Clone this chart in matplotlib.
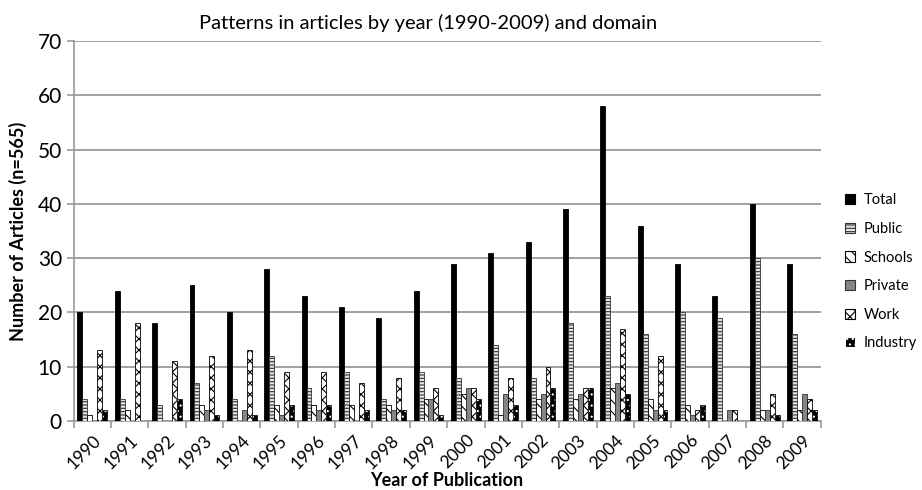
import numpy as np
import matplotlib
matplotlib.use("Agg")
import matplotlib.pyplot as plt
from matplotlib.patches import Patch

plt.rcParams['font.family'] = ['Lato', 'DejaVu Sans']
plt.rcParams['hatch.linewidth'] = 0.8

# articles per year, split by domain
years = [str(y) for y in range(1990, 2010)]
total    = [20, 24, 18, 25, 20, 28, 23, 21, 19, 24, 29, 31, 33, 39, 58, 36, 29, 23, 40, 29]
public   = [4, 4, 3, 7, 4, 12, 6, 9, 4, 9, 8, 14, 8, 18, 23, 16, 20, 19, 30, 16]
schools  = [1, 2, 0, 3, 0, 3, 3, 3, 3, 4, 5, 1, 4, 4, 6, 4, 3, 0, 2, 2]
private  = [0, 0, 0, 2, 2, 1, 2, 0, 2, 4, 6, 5, 5, 5, 7, 2, 1, 2, 2, 5]
work     = [13, 18, 11, 12, 13, 9, 9, 7, 8, 6, 6, 8, 10, 6, 17, 12, 2, 2, 5, 4]
industry = [2, 0, 4, 1, 1, 3, 3, 2, 2, 1, 4, 3, 6, 6, 5, 2, 3, 0, 1, 2]

series = [
    ("Total", total, dict(facecolor="black", edgecolor="black")),
    ("Public", public, dict(facecolor="#e4e4e4", edgecolor="#333333", hatch="-----")),
    ("Schools", schools, dict(facecolor="white", edgecolor="black", hatch="\\\\\\")),
    ("Private", private, dict(facecolor="#858585", edgecolor="#333333")),
    ("Work", work, dict(facecolor="white", edgecolor="black", hatch="xxx")),
    ("Industry", industry, dict(facecolor="black", edgecolor="white", hatch="...")),
]

fig = plt.figure(figsize=(9.22, 4.9), dpi=100)
ax = fig.add_axes([0.080, 0.141, 0.810, 0.775])

x = np.arange(len(years))
w = 0.8 / len(series)
handles = []
for i, (name, vals, style) in enumerate(series):
    pos = x - 0.4 + w * (i + 0.5)
    ax.bar(pos, vals, width=w, linewidth=0.6, zorder=3, **style)
    if name == "Industry":
        # outline drawn separately so the dots stay white
        ax.bar(pos, vals, width=w, fill=False, edgecolor="black", linewidth=0.6, zorder=4)
    handles.append(Patch(label=name, linewidth=0.8, **style))

ax.set_xlim(-0.5, len(years) - 0.5)
ax.set_ylim(0, 70)
ax.set_yticks(range(0, 71, 10))
ax.yaxis.grid(True, color="#9a9a9a", linewidth=1.3, zorder=0)
ax.set_axisbelow(True)

ax.set_xticks(x)
ax.set_xticklabels(years, rotation=45, ha="right", rotation_mode="anchor", fontsize=12.5)
ax.set_xticks(np.arange(-0.5, len(years)), minor=True)
ax.tick_params(axis="x", which="major", length=0, pad=8)
ax.tick_params(axis="x", which="minor", length=5, color="#9a9a9a", width=1.2)
ax.tick_params(axis="y", labelsize=15, length=5, color="#9a9a9a", width=1.2)

for side in ("top", "right"):
    ax.spines[side].set_visible(False)
for side in ("left", "bottom"):
    ax.spines[side].set_color("#9a9a9a")
    ax.spines[side].set_linewidth(1.2)

ax.set_title("Patterns in articles by year (1990-2009) and domain", fontsize=14.5, pad=9, x=0.474)
ax.set_ylabel("Number of Articles (n=565)", fontsize=13, fontweight="bold", labelpad=8)
ax.set_xlabel("Year of Publication", fontsize=13, fontweight="bold", labelpad=0)

fig.legend(handles=handles, loc="center left", bbox_to_anchor=(0.902, 0.445),
           frameon=False, fontsize=10.5, handlelength=0.7, handleheight=0.7,
           handletextpad=0.6, labelspacing=1.0)

fig.savefig("out.png", dpi=100)
